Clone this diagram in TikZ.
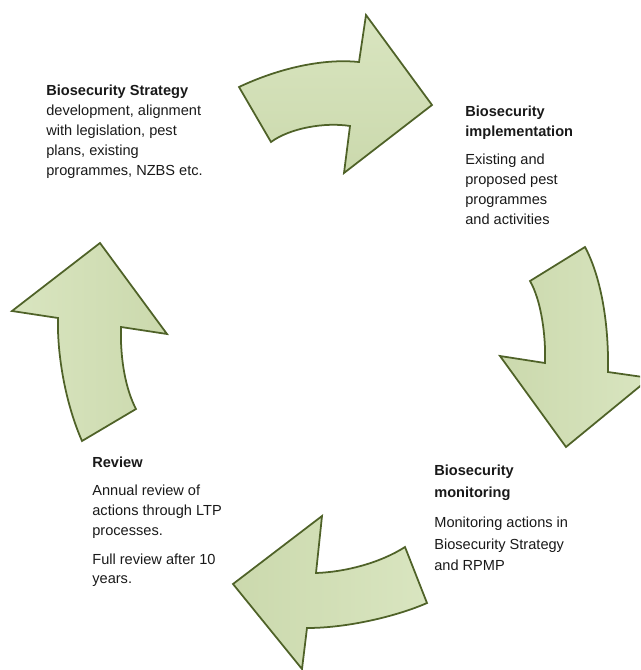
\documentclass[tikz,border=0pt]{standalone}
\usepackage{fontspec}
\setmainfont{Liberation Sans}
\definecolor{leafgreen}{RGB}{217,229,192}
\definecolor{leafshade}{RGB}{203,217,173}
\definecolor{leafline}{RGB}{79,98,40}
\begin{document}
\begin{tikzpicture}
  [x=0.02cm,y=-0.02cm,
   every node/.style={inner sep=0pt,anchor=north west,align=left,
     text=black!90,font=\fontsize{8.3}{11.3}\selectfont},
   cyclearrow/.style={draw=leafline,line width=1pt,line join=miter}]
  \useasboundingbox (0,0) rectangle (640,670);

  \begin{scope}
    \clip (0,0) rectangle (640,670);
    % strategy -> implementation
    \draw[cyclearrow,top color=leafgreen,bottom color=leafshade]
      (239,87) .. controls (275,70) and (320,58) .. (359,62)
      -- (366,15) -- (432,105) -- (344,173) -- (350,126)
      .. controls (325,122) and (290,128) .. (271,142) -- cycle;
    % implementation -> monitoring
    \draw[cyclearrow,left color=leafshade,right color=leafgreen]
      (585,247) .. controls (600,275) and (609,320) .. (608,372)
      -- (650,378) -- (566,447) -- (500,356) -- (545,363)
      .. controls (546,335) and (541,300) .. (530,281) -- cycle;
    % monitoring -> review
    \draw[cyclearrow,left color=leafshade,right color=leafgreen]
      (427,603) .. controls (400,615) and (350,628) .. (307,628)
      -- (302,669) -- (233,584) -- (322,516) -- (316,573)
      .. controls (345,572) and (380,563) .. (405,547) -- cycle;
    % review -> strategy
    \draw[cyclearrow,left color=leafgreen,right color=leafshade]
      (82,441) .. controls (64,400) and (57,350) .. (58,318)
      -- (12,311) -- (100,243) -- (167,334) -- (121,327)
      .. controls (120,360) and (126,390) .. (136,409) -- cycle;
  \end{scope}

  \node (strategy) at (46,85)
    {\textbf{Biosecurity Strategy}\\
     development, alignment\\
     with legislation, pest\\
     plans, existing\\
     programmes, NZBS etc.};
  \node (implementation) at (465,106)
    {\textbf{Biosecurity}\\
     \textbf{implementation}\\[4.5pt]
     Existing and\\
     proposed pest\\
     programmes\\
     and activities};
  \node (monitoring) at (434,465) [font=\fontsize{8.3}{12.4}\selectfont]
    {\textbf{Biosecurity}\\
     \textbf{monitoring}\\[4.5pt]
     Monitoring actions in\\
     Biosecurity Strategy\\
     and RPMP};
  \node (review) at (92,457)
    {\textbf{Review}\\[4.5pt]
     Annual review of\\
     actions through LTP\\
     processes.\\[5pt]
     Full review after 10\\
     years.};
\end{tikzpicture}
\end{document}
